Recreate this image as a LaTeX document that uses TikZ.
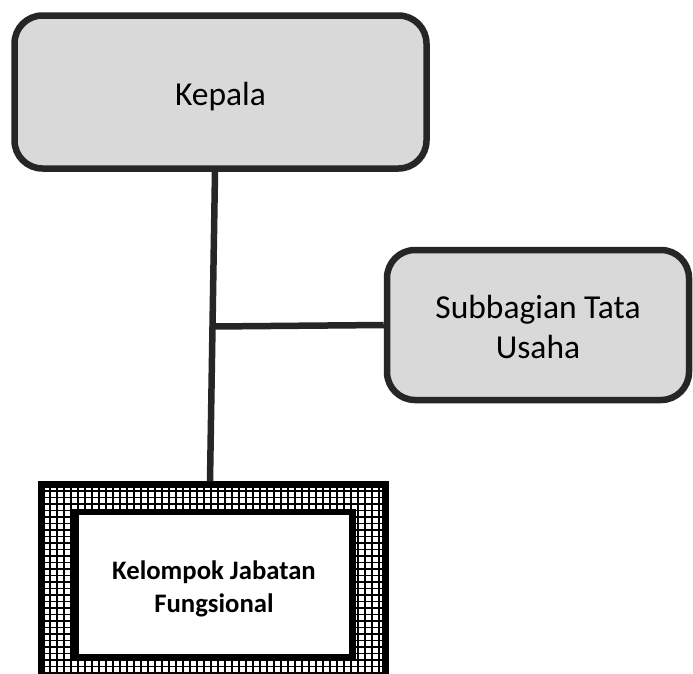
\documentclass[tikz,border=0pt]{standalone}
\usepackage{fontspec}
\setmainfont{Carlito}
\usetikzlibrary{calc}
\definecolor{edge}{HTML}{262626}
\definecolor{boxfill}{HTML}{D9D9D9}
\tikzset{
  unitbox/.style={draw=edge, fill=boxfill, line width=6.5pt, rounded corners=28pt, inner sep=0pt},
  boxtext/.style={align=center, font=\fontsize{33.5}{40}\selectfont, text=black, inner sep=0pt},
  fungtext/.style={align=center, font=\bfseries\fontsize{26.7}{33}\selectfont, text=black, inner sep=0pt},
  frame/.style={draw=black, line width=6.5pt, inner sep=0pt},
  gridline/.style={draw=black, line width=1.3pt},
  conn/.style={draw=edge, line width=6.5pt},
}
\begin{document}
\begin{tikzpicture}[x=1pt,y=-1pt]
\clip (0,0) rectangle (693,673);
\fill[white] (0,0) rectangle (693,673);
% hatched band of the bottom box
\begin{scope}
\clip (41.5,484.5) rectangle (385.5,715.5);
\foreach \x in {43,50,...,390} \draw[gridline] (\x,480) -- (\x,720);
\foreach \y in {491,497.5,...,720} \draw[gridline] (38,\y) -- (390,\y);
\end{scope}
\node[unitbox, minimum width=412pt, minimum height=153pt,
  label={[boxtext, yshift=-5pt]center:Kepala}] (kepala) at (220.5,92) {};
\node[unitbox, minimum width=302pt, minimum height=150pt,
  label={[boxtext, yshift=-2pt]center:Subbagian Tata\\Usaha}] (sub) at (538,325) {};
\node[frame, minimum width=344pt, minimum height=231pt] (fung) at (213.5,600) {};
\node[frame, fill=white, minimum width=277pt, minimum height=145.5pt,
  label={[fungtext, yshift=-4pt]center:Kelompok Jabatan\\Fungsional}] (fungin) at (214,584.75) {};
\coordinate (top) at ([xshift=-5.5pt]kepala.south);
\coordinate (bot) at ([xshift=-3.5pt]fung.north);
\draw[conn] (top) -- (bot);
\coordinate (junc) at ($(top)!0.5!(bot)$);
\draw[conn] (junc) -- (sub.west);
\end{tikzpicture}
\end{document}
